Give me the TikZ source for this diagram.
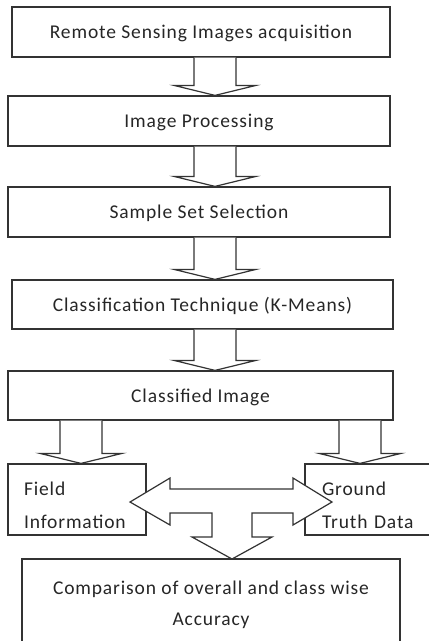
\documentclass[tikz,border=0pt]{standalone}
\usepackage{fontspec}
\setmainfont{Carlito}[LetterSpace=4.5]
\usetikzlibrary{calc}

\tikzset{
	stepbox/.style={draw=black!80, line width=1.2pt, minimum height=50pt, inner sep=0pt,
		font=\fontsize{19.5}{22}\selectfont, text=black!85},
	blockarrow/.style={draw=black!80, line width=1.2pt, fill=white, line join=miter},
}

% hollow block arrow: x position, start anchor, tip anchor
\newcommand{\hollowdown}[3]{%
	\draw[blockarrow] let \p1=(#2), \p2=(#3) in
	(#1pt-21pt,\y1) -- (#1pt-21pt,\y2+10pt) -- (#1pt-41pt,\y2+10pt) -- (#1pt,\y2)
	-- (#1pt+41pt,\y2+10pt) -- (#1pt+21pt,\y2+10pt) -- (#1pt+21pt,\y1);
}

\begin{document}
\begin{tikzpicture}[x=1pt,y=-1pt]
	\clip (0,0) rectangle (429,641);
	
	\node[stepbox, minimum width=378pt] (acq) at (201,32) {\rule{0pt}{17pt}Remote Sensing Images acquisition};
	\node[stepbox, minimum width=382pt] (proc) at (199,121) {\rule{0pt}{17pt}Image Processing};
	\node[stepbox, minimum width=382pt] (sample) at (199,212) {\rule{0pt}{17pt}Sample Set Selection};
	\node[stepbox, minimum width=381pt, minimum height=49pt] (tech) at (202.5,304.5) {\rule{0pt}{17pt}Classification Technique (K-Means)};
	\node[stepbox, minimum width=385pt, minimum height=49pt] (classified) at (200.5,395.5) {\rule{0pt}{17pt}Classified Image};
	
	\node[stepbox, minimum width=138pt, minimum height=71pt, text width=106pt, align=left,
		font=\fontsize{19.5}{33}\selectfont] (field) at (77,499.5) {\rule{0pt}{26pt}Field\\Information};
	\node[stepbox, minimum width=140pt, minimum height=71pt, text width=106pt, align=left,
		font=\fontsize{19.5}{33}\selectfont] (ground) at (375,499.5) {\rule{0pt}{26pt}Ground\\Truth Data};
	
	\node[stepbox, minimum width=378pt, minimum height=91pt,
		font=\fontsize{19.5}{31}\selectfont, align=center] (compare) at (211,604.5)
		{Comparison of overall and class wise\\Accuracy};
	
	
	\hollowdown{215}{acq.south}{proc.north}
	\hollowdown{215}{proc.south}{sample.north}
	\hollowdown{215}{sample.south}{tech.north}
	\hollowdown{215}{tech.south}{classified.north}
	\hollowdown{81}{classified.south}{field.north}
	\hollowdown{360}{classified.south}{ground.north}
	
	% double arrow with the branch down
	\draw[blockarrow] (130,502) -- (170,478) -- (170,489) -- (293,489) -- (293,478)
		-- (332,502) -- (293,525) -- (293,513) -- (252,513) -- (252,537) -- (272,537)
		-- (232,559) -- (192,537) -- (212,537) -- (212,513) -- (170,513) -- (170,525) -- cycle;
\end{tikzpicture}
\end{document}
